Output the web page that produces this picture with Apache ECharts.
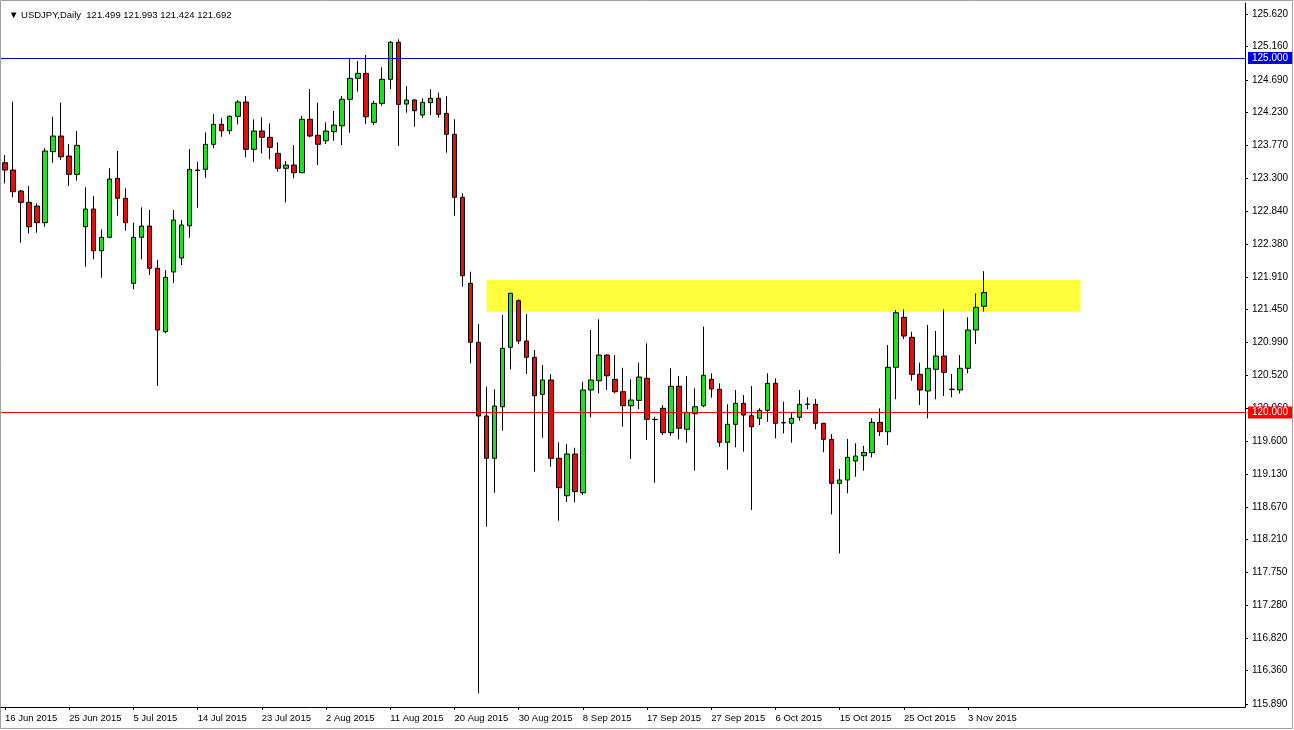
<!DOCTYPE html>
<html>
<head>
<meta charset="utf-8">
<script src="https://cdn.jsdelivr.net/npm/echarts@6/dist/echarts.min.js"></script>
<style>
html,body{margin:0;padding:0;background:#fff;}
#c{width:1294px;height:730px;}
</style>
</head>
<body>
<div id="c"></div>
<script>
// ---- data (USDJPY daily, bars incl. Sunday sessions) ----
const startDate = '2015-06-16';
const totalSlots = 155;               // bars + empty right shift
const labelEvery = 8;
const tickLabelsY = [125.620,125.160,124.690,124.230,123.770,123.300,122.840,122.380,121.910,121.450,120.990,120.520,120.060,119.600,119.130,118.670,118.210,117.750,117.280,116.820,116.360,115.890];
const yMin = 115.848, yMax = 125.775;

const open = [123.523,123.420,123.124,122.964,122.912,122.677,123.678,123.899,123.617,123.359,
122.620,122.870,122.282,122.471,123.303,123.021,121.822,122.471,122.630,122.034,
121.140,121.982,122.179,122.634,123.420,123.430,123.782,124.064,123.974,124.177,
124.379,123.712,123.970,123.881,123.655,123.444,123.490,123.382,124.135,123.909,
123.833,123.960,124.044,124.417,124.713,124.783,124.092,124.360,124.699,125.221,
124.350,124.407,124.195,124.369,124.431,124.219,123.923,123.035,121.822,120.990,
119.951,119.355,120.082,120.920,121.577,121.009,120.779,120.257,120.459,119.355,
118.827,119.415,118.869,120.318,120.449,120.811,120.469,120.294,120.096,120.172,
120.483,119.904,120.060,119.716,120.370,119.764,119.983,120.096,120.469,120.328,
119.580,119.834,120.130,119.955,119.919,120.031,120.412,119.857,119.848,119.933,
120.116,120.116,119.848,119.622,119.002,119.049,119.316,119.391,119.434,119.862,
119.730,120.638,121.343,121.061,120.539,120.304,120.610,120.797,120.330,120.318,
120.624,121.164,121.499];
const close = [123.420,123.114,122.964,122.620,122.677,123.688,123.899,123.607,123.359,123.768,
122.870,122.282,122.471,123.293,123.021,122.677,122.471,122.630,122.034,121.164,
121.907,122.715,122.644,123.430,123.413,123.782,124.064,123.974,124.177,124.379,
123.712,123.970,123.881,123.740,123.444,123.490,123.382,124.135,123.899,123.782,
123.970,124.054,124.417,124.713,124.783,124.171,124.360,124.699,125.221,124.346,
124.407,124.256,124.374,124.431,124.205,123.923,123.035,121.929,120.990,119.951,
119.355,120.092,120.906,121.681,121.009,120.779,120.237,120.459,119.355,118.940,
119.415,118.884,120.318,120.459,120.811,120.519,120.294,120.096,120.177,120.501,
119.904,119.900,119.716,120.370,119.778,120.003,120.082,120.525,120.332,119.580,
119.834,120.130,119.965,119.800,120.031,120.412,119.848,119.855,119.919,120.116,
120.120,119.848,119.622,119.002,119.049,119.369,119.387,119.439,119.862,119.730,
120.638,121.408,121.079,120.539,120.318,120.624,120.797,120.567,120.326,120.624,
121.164,121.484,121.692];
const low = [123.232,123.035,122.395,122.527,122.536,122.620,123.523,123.561,123.194,123.269,
122.056,122.161,121.901,122.457,122.775,122.564,121.738,122.161,121.939,120.374,
121.117,121.826,122.080,122.465,122.888,123.311,123.726,123.889,123.923,124.064,
123.599,123.537,123.655,123.571,123.396,122.964,123.303,123.375,123.881,123.490,
123.787,123.833,123.772,123.946,124.524,124.069,124.054,124.327,124.562,123.758,
124.228,124.030,124.157,124.195,124.157,123.664,122.775,121.774,120.694,116.041,
118.390,118.869,119.744,120.610,120.966,120.543,119.166,119.645,119.236,118.475,
118.738,118.734,118.837,119.933,120.271,120.318,120.271,119.800,119.345,120.050,
119.613,119.010,119.683,119.673,119.622,119.574,119.180,120.074,120.209,119.518,
119.194,119.510,119.448,118.626,119.824,119.871,119.637,119.707,119.574,119.885,
120.046,119.764,119.439,118.565,118.015,118.861,119.095,119.180,119.369,119.669,
119.542,120.187,121.037,120.449,120.106,119.919,120.187,120.233,120.215,120.271,
120.553,120.966,121.424];
const high = [123.631,124.383,123.138,123.194,122.950,123.726,124.171,124.369,123.787,123.970,
123.176,123.053,122.584,123.444,123.688,123.162,122.677,122.894,122.856,122.151,
122.010,122.856,122.715,123.716,123.537,123.951,124.210,124.149,124.190,124.407,
124.463,124.135,124.163,124.078,123.810,123.547,123.772,124.181,124.562,124.369,
124.092,124.252,124.463,124.995,124.957,125.041,124.397,124.868,125.239,125.263,
124.604,124.417,124.431,124.558,124.510,124.463,124.135,123.091,121.986,121.248,
120.364,120.328,121.375,121.690,121.597,121.389,120.882,120.670,120.543,119.580,
119.556,119.504,120.435,121.164,121.315,120.820,120.811,120.632,120.469,120.703,
120.976,119.941,120.106,120.624,120.515,120.515,120.342,121.210,120.553,120.412,
120.116,120.318,120.247,120.374,120.060,120.553,120.483,120.153,119.998,120.318,
120.215,120.191,119.857,119.697,119.204,119.627,119.566,119.528,119.919,120.060,
120.952,121.446,121.456,121.140,120.703,121.234,121.150,121.456,120.543,120.811,
121.343,121.681,121.993];

const levelBlue = 125.000;
const levelRed = 120.000;
const zoneTop = 121.869, zoneBottom = 121.422;
const zoneStartBar = 60, zoneEndBar = 134;
const symbolName = 'USDJPY,Daily';

// ---- categories: trading days (Sun-Fri), Saturdays skipped ----
const months = ['Jan','Feb','Mar','Apr','May','Jun','Jul','Aug','Sep','Oct','Nov','Dec'];
const categories = [];
{
  let d = new Date(startDate + 'T12:00:00Z');
  while (categories.length < totalSlots) {
    if (d.getUTCDay() !== 6) categories.push(d.getUTCDate() + ' ' + months[d.getUTCMonth()] + ' ' + d.getUTCFullYear());
    d = new Date(d.getTime() + 86400000);
  }
}
const nBars = open.length;
const candles = open.map((o, i) => [o, close[i], low[i], high[i]]);
const last = nBars - 1;

const FONT = 'Liberation Sans';
const chart = echarts.init(document.getElementById('c'), null, {renderer: 'canvas'});
chart.setOption({
  animation: false,
  backgroundColor: '#ffffff',
  textStyle: {fontFamily: FONT},
  title: {
    text: '\u25BC ' + symbolName + '  ' + [open[last], high[last], low[last], close[last]].map(v => v.toFixed(3)).join(' '),
    left: 4, top: 5,
    textStyle: {fontFamily: FONT, fontSize: 9.5, fontWeight: 'normal', color: '#000'}
  },
  grid: {left: 1, top: 3, width: 1244, height: 704, show: false},
  xAxis: {
    type: 'category',
    data: categories,
    boundaryGap: true,
    axisLine: {show: true, lineStyle: {color: '#000', width: 1}},
    axisTick: {show: true, inside: false, length: 3, lineStyle: {color: '#000'},
      alignWithLabel: true,
      interval: (i) => i % labelEvery === 0 && i < nBars},
    axisLabel: {
      show: true,
      interval: (i) => i % labelEvery === 0 && i < nBars,
      align: 'left', margin: 6,
      fontFamily: FONT, fontSize: 9.5, color: '#000'
    },
    splitLine: {show: false}
  },
  yAxis: {
    type: 'value', position: 'right', scale: true,
    min: yMin, max: yMax,
    axisLine: {show: true, lineStyle: {color: '#000', width: 1}},
    axisTick: {show: true, length: 3, lineStyle: {color: '#000'}, customValues: tickLabelsY},
    axisLabel: {show: true, customValues: tickLabelsY, formatter: v => v.toFixed(3),
      margin: 7, fontFamily: FONT, fontSize: 10, color: '#000'},
    splitLine: {show: false}
  },
  series: [{
    type: 'candlestick',
    data: candles,
    barWidth: 5,
    clip: false,
    itemStyle: {
      color: '#1fe01f', color0: '#e01010',
      borderColor: '#000', borderColor0: '#000', borderWidth: 1
    },
    markArea: {
      silent: true,
      itemStyle: {color: '#ffff3c', opacity: 1},
      data: [[{xAxis: categories[zoneStartBar], yAxis: zoneTop}, {xAxis: categories[zoneEndBar], yAxis: zoneBottom}]]
    },
    markLine: {
      silent: true, symbol: 'none', animation: false,
      label: {position: 'end', distance: 3, color: '#fff', fontFamily: FONT, fontSize: 10,
        padding: [1, 4, 1, 4], formatter: p => p.value.toFixed(3)},
      data: [
        {yAxis: levelBlue, lineStyle: {color: '#0000d8', width: 1, type: 'solid'}, label: {backgroundColor: '#0000e0'}},
        {yAxis: levelRed, lineStyle: {color: '#ff0000', width: 1, type: 'solid'}, label: {backgroundColor: '#ff0000'}},
        {yAxis: close[last], lineStyle: {opacity: 0, width: 0}, label: {backgroundColor: '#000000'}}
      ]
    }
  }],
  graphic: [{
    type: 'rect', shape: {x: 0.5, y: 0.5, width: 1292, height: 728},
    style: {fill: 'none', stroke: '#a0a0a0', lineWidth: 1}, silent: true
  }]
});
</script>
</body>
</html>
